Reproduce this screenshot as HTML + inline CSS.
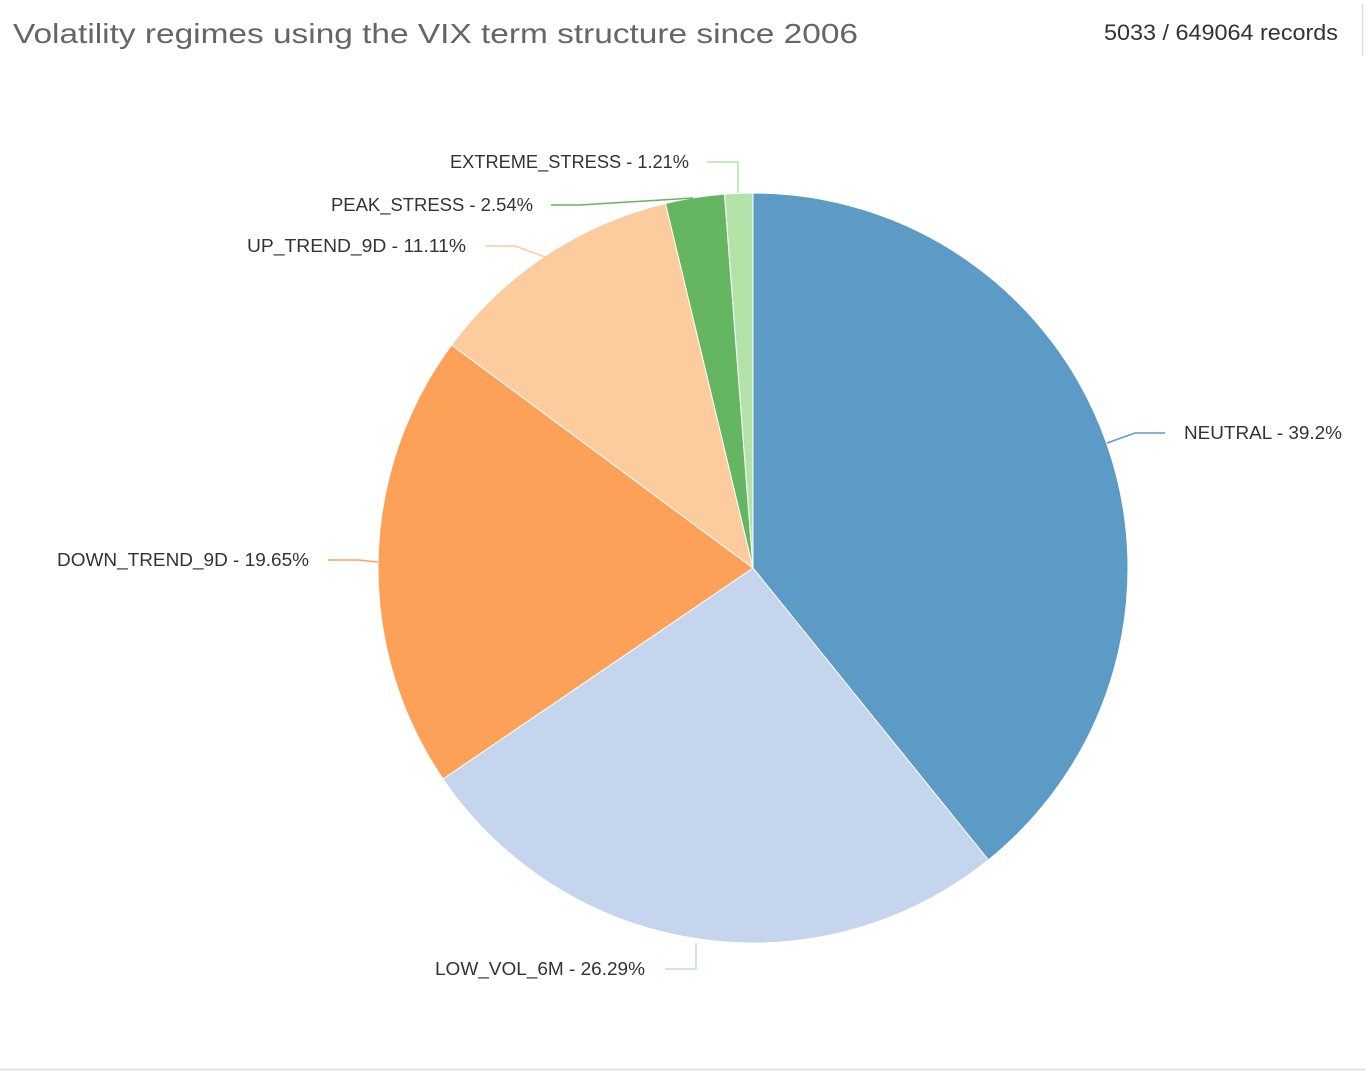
<!DOCTYPE html>
<html><head><meta charset="utf-8"><style>
html,body{margin:0;padding:0;background:#fff;}
svg{display:block;}
text{font-family:"Liberation Sans",sans-serif;}
</style></head><body>
<svg width="1366" height="1072" viewBox="0 0 1366 1072">
<text x="13" y="43" font-size="28" fill="#666" textLength="845" lengthAdjust="spacingAndGlyphs">Volatility regimes using the VIX term structure since 2006</text>
<text x="1104" y="40" font-size="22" fill="#333" textLength="234" lengthAdjust="spacingAndGlyphs">5033 / 649064 records</text>
<line x1="1362.5" y1="4" x2="1362.5" y2="56" stroke="#ddd" stroke-width="1.5"/>
<line x1="0" y1="1069.5" x2="1366" y2="1069.5" stroke="#ddd" stroke-width="1.5"/>

<g stroke="#fff" stroke-width="1">
<path d="M753,568 L753,193 A375,375 0 0 1 988.4,859.9 Z" fill="#5b9bc6"/>
<path d="M753,568 L988.4,859.9 A375,375 0 0 1 443.0,779.0 Z" fill="#c5d5ed"/>
<path d="M753,568 L443.0,779.0 A375,375 0 0 1 451.6,344.9 Z" fill="#fca157"/>
<path d="M753,568 L451.6,344.9 A375,375 0 0 1 665.5,203.4 Z" fill="#fccb9e"/>
<path d="M753,568 L665.5,203.4 A375,375 0 0 1 724.5,194.1 Z" fill="#64b663"/>
<path d="M753,568 L724.5,194.1 A375,375 0 0 1 753,193 Z" fill="#b3e3a8"/>
</g>

<g fill="none" stroke-width="1.5">
<polyline points="1107,443 1135,433 1165,433" stroke="#5b9bc6"/>
<polyline points="696,943 696,969 665,969" stroke="#c5d5ed"/>
<polyline points="378,562 358,560 328,560" stroke="#fca157"/>
<polyline points="545,257 515,246 485,246" stroke="#fccb9e"/>
<polyline points="693,198 580,205 551,205" stroke="#64b663"/>
<polyline points="738,193 738,162 707,162" stroke="#b3e3a8"/>
</g>

<g font-size="18" fill="#333">
<text x="1184" y="439" textLength="158" lengthAdjust="spacingAndGlyphs">NEUTRAL - 39.2%</text>
<text x="645" y="975" text-anchor="end" textLength="210" lengthAdjust="spacingAndGlyphs">LOW_VOL_6M - 26.29%</text>
<text x="309" y="566" text-anchor="end" textLength="252" lengthAdjust="spacingAndGlyphs">DOWN_TREND_9D - 19.65%</text>
<text x="466" y="252" text-anchor="end" textLength="219" lengthAdjust="spacingAndGlyphs">UP_TREND_9D - 11.11%</text>
<text x="533" y="211" text-anchor="end" textLength="202" lengthAdjust="spacingAndGlyphs">PEAK_STRESS - 2.54%</text>
<text x="689" y="168" text-anchor="end" textLength="239" lengthAdjust="spacingAndGlyphs">EXTREME_STRESS - 1.21%</text>
</g>
</svg>
</body></html>
